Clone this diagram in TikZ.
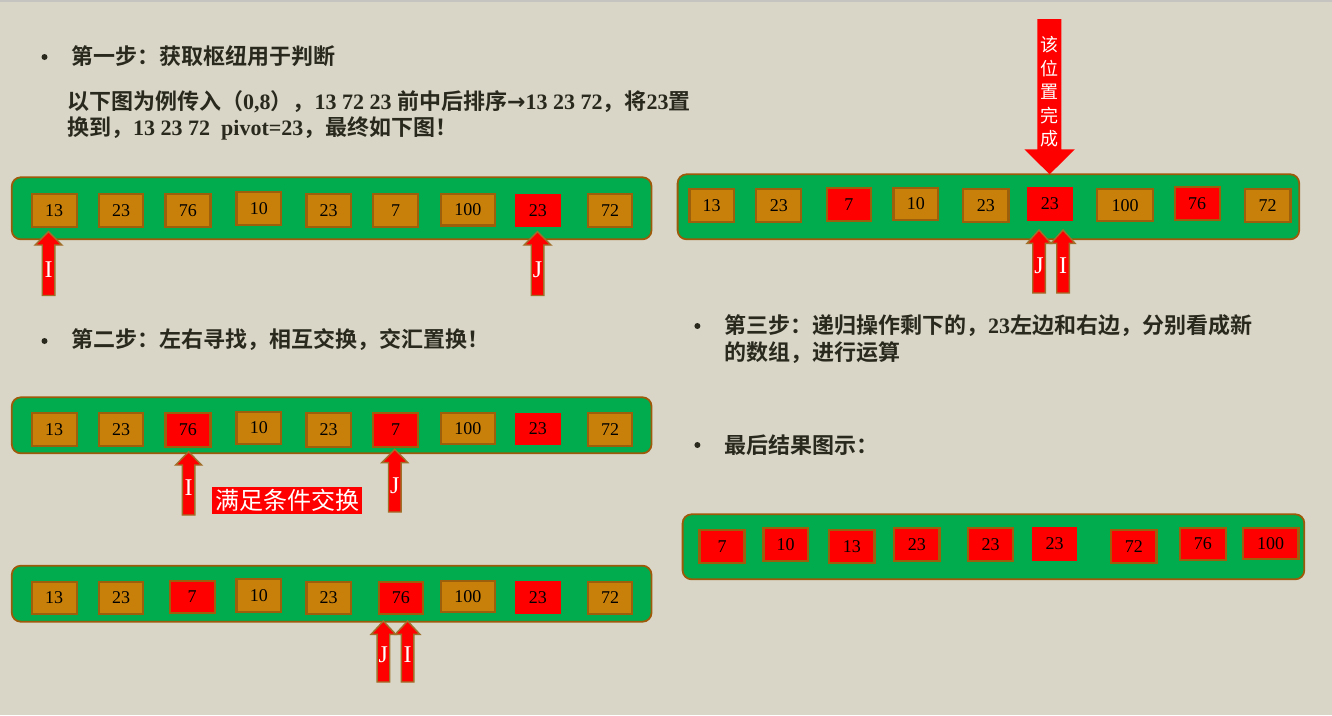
\documentclass[tikz,border=0pt]{standalone}
\usepackage{fontspec}
\setmainfont{Liberation Serif}
\newfontfamily\cjk[BoldFont={Noto Sans CJK SC Bold}]{Noto Sans CJK SC}
\newfontfamily\dv{DejaVu Sans}
\newcommand\C[1]{{\cjk #1}}
\definecolor{bgc}{HTML}{D9D6C7}
\definecolor{topc}{HTML}{C6C4C0}
\definecolor{grn}{HTML}{00AC4E}
\definecolor{rowbd}{HTML}{9C5A0A}
\definecolor{org}{HTML}{C8800B}
\definecolor{orgbd}{HTML}{9C5F0C}
\definecolor{arrbd}{HTML}{A0702A}
\definecolor{headc}{HTML}{29291D}
\tikzset{
  rowbox/.style={draw=rowbd, line width=1.8pt, fill=grn, rounded corners=9pt, inner sep=0pt},
  ob/.style={draw=orgbd, line width=2.2pt, fill=org, inner sep=0pt, font=\fontsize{18}{18}\selectfont},
  rb/.style={draw=orgbd, line width=2.2pt, fill=red, inner sep=0pt, font=\fontsize{18}{18}\selectfont},
  rn/.style={fill=red, inner sep=0pt, font=\fontsize{18}{18}\selectfont},
  arrsty/.style={draw=arrbd, line width=1.4pt, fill=red, line join=miter},
  arrlab/.style={text=white, inner sep=0pt, font=\fontsize{24}{24}\selectfont},
  hd/.style={anchor=west, inner sep=0pt, text=headc, font=\bfseries\fontsize{22}{26}\selectfont},
  bul/.style={circle, fill=headc, inner sep=0pt, minimum size=6pt},
}
\newcommand\cellbox[7]{\node[#6, minimum width={#4-#2}, minimum height={#5-#3}] (#1) at ({(#2+#4)/2},{(#3+#5)/2}) {#7};}
\newcommand\rowbox[5]{\node[rowbox, minimum width={#4-#2}, minimum height={#5-#3}] (#1) at ({(#2+#4)/2},{(#3+#5)/2}) {};}
\newcommand\uparr[7]{%
  \draw[arrsty] ({#2-6.3},#4) -- ({#2-6.3},{#3+13.3}) -- ({#2-#7},{#3+13.3}) -- (#2,#3) -- ({#2+#7},{#3+13.3}) -- ({#2+6.3},{#3+13.3}) -- ({#2+6.3},#4) -- cycle;
  \node[arrlab] (#1) at (#2,#6) {#5};}
\begin{document}
\begin{tikzpicture}[x=1pt,y=-1pt]
\useasboundingbox (0,0) rectangle (1332,715);
\fill[bgc] (0,0) rectangle (1332,715);
\fill[topc] (0,0) rectangle (1332,2);

% ---------- texts ----------
\node[bul] (b1) at (44.5,57) {};
\node[hd] (t1) at (71,56) {\C{第一步：获取枢纽用于判断}};
\node[hd] (t2) at (67,101.7) {\C{以下图为例传入（}0,8\C{），}13 72 23 \C{前中后排序}{\dv\bfseries →}13 23 72\C{，将}23\C{置}};
\node[hd] (t3) at (67,128.3) {\C{换到，}13 23 72\ \ pivot=23\C{，最终如下图！}};
\node[bul] (b2) at (44.5,341) {};
\node[hd] (t4) at (71,340) {\C{第二步：左右寻找，相互交换，交汇置换！}};
\node[bul] (b3) at (697.4,326) {};
\node[hd] (t5) at (724,326) {\C{第三步：递归操作剩下的，}23\C{左边和右边，分别看成新}};
\node[hd] (t6) at (724,352.7) {\C{的数组，进行运算}};
\node[bul] (b4) at (697.4,445) {};
\node[hd] (t7) at (724,445) {\C{最后结果图示：}};

% ---------- row 1 ----------
\rowbox{r1}{11.8}{177.3}{651.5}{239.3}
\cellbox{a1}{31.6}{194}{76.6}{227.3}{ob}{13}
\cellbox{a2}{98.9}{194}{143.1}{227.3}{ob}{23}
\cellbox{a3}{165.4}{194}{210.4}{227.3}{ob}{76}
\cellbox{a4}{236.5}{192.3}{281.1}{225}{ob}{10}
\cellbox{a5}{306.4}{194}{351}{227.3}{ob}{23}
\cellbox{a6}{373.3}{194}{418}{227.3}{ob}{7}
\cellbox{a7}{440.7}{194}{495}{225.5}{ob}{100}
\cellbox{a8}{515.2}{194}{560.6}{227.3}{rn}{23}
\cellbox{a9}{588}{194}{632.2}{227.3}{ob}{72}
\uparr{ai}{48.5}{231.7}{295.5}{I}{270}{13.5}
\uparr{aj}{537.5}{231.7}{295.5}{J}{270}{13.5}

% ---------- row 2 ----------
\rowbox{r2}{11.8}{397.3}{651.5}{453.3}
\cellbox{c1}{31.6}{413.3}{76.6}{445.7}{ob}{13}
\cellbox{c2}{98.9}{413.3}{143.1}{445.7}{ob}{23}
\cellbox{c3}{165.4}{413.3}{210.4}{446.7}{rb}{76}
\cellbox{c4}{236.5}{411.7}{281.1}{444.3}{ob}{10}
\cellbox{c5}{306.4}{413.3}{351}{446.7}{ob}{23}
\cellbox{c6}{373.3}{413.3}{418}{446.7}{rb}{7}
\cellbox{c7}{440.7}{413.3}{495}{444.3}{ob}{100}
\cellbox{c8}{515.2}{412.7}{560.6}{445}{rn}{23}
\cellbox{c9}{588}{413.3}{632.2}{445.7}{ob}{72}
\uparr{ci}{188.6}{451.7}{515}{I}{488}{13}
\uparr{cj}{394.8}{449.3}{512}{J}{486}{13}
\node[fill=red, text=white, inner sep=0pt, minimum width=150pt, minimum height=27pt, font=\cjk\fontsize{24}{24}\selectfont] (swap) at (287.2,500.7) {满足条件交换};

% ---------- row 4 ----------
\rowbox{r4}{11.8}{565.7}{651.5}{621.7}
\cellbox{d1}{31.6}{581.7}{76.6}{614}{ob}{13}
\cellbox{d2}{98.9}{581.7}{143.1}{614}{ob}{23}
\cellbox{d3}{169.6}{580.7}{214.6}{612.7}{rb}{7}
\cellbox{d4}{236.5}{579.3}{281.1}{612.3}{ob}{10}
\cellbox{d5}{306.4}{581.7}{351}{614}{ob}{23}
\cellbox{d6}{378.8}{581.7}{423}{614}{rb}{76}
\cellbox{d7}{440.7}{580.7}{495}{612.3}{ob}{100}
\cellbox{d8}{515.2}{580.7}{560.6}{614.3}{rn}{23}
\cellbox{d9}{588}{581.7}{632.2}{614}{ob}{72}
\uparr{dj}{383.4}{621}{682}{J}{655}{12.3}
\uparr{di}{407.6}{621}{682}{I}{655}{12.3}

% ---------- row 3 (top right) ----------
\rowbox{r3}{677.6}{174.3}{1299.2}{239.3}
\cellbox{e1}{689.4}{189.3}{734}{222.3}{ob}{13}
\cellbox{e2}{756.3}{189.3}{801.3}{222.3}{ob}{23}
\cellbox{e3}{826.6}{188.3}{871.2}{221}{rb}{7}
\cellbox{e4}{893.5}{187.7}{938}{220}{ob}{10}
\cellbox{e5}{963.3}{189.3}{1008.4}{222.3}{ob}{23}
\cellbox{e6}{1027}{186.7}{1072.8}{220.7}{rn}{23}
\cellbox{e7}{1097}{189.3}{1153}{221}{ob}{100}
\cellbox{e8}{1174.6}{187.3}{1219.7}{220}{rb}{76}
\cellbox{e9}{1245}{189.3}{1290.4}{222.3}{ob}{72}
\uparr{ej}{1039}{230}{293}{J}{266}{12}
\uparr{ei}{1063}{230}{293}{I}{266}{12}
\fill[red] (1037.4,19) -- (1061.4,19) -- (1061.4,149.3) -- (1074.9,149.3) -- (1049.6,174.3) -- (1024.4,149.3) -- (1037.4,149.3) -- cycle;
\node[text=white, inner sep=0pt, align=center, font=\cjk\fontsize{18}{23.5}\selectfont] (done) at (1049.4,92) {该\\位\\置\\完\\成};

% ---------- row 5 (final) ----------
\rowbox{r5}{682.6}{514.3}{1304.3}{579.3}
\cellbox{f1}{699.5}{530}{744.5}{563.3}{rb}{7}
\cellbox{f2}{763.4}{528.3}{808}{561}{rb}{10}
\cellbox{f3}{829}{530}{874.5}{563.3}{rb}{13}
\cellbox{f4}{894.3}{528.3}{939.4}{561}{rb}{23}
\cellbox{f5}{968}{528.3}{1013}{561}{rb}{23}
\cellbox{f6}{1032}{526.7}{1077.4}{560.7}{rn}{23}
\cellbox{f7}{1111}{530}{1156.5}{563.3}{rb}{72}
\cellbox{f8}{1180}{527.7}{1225.6}{560}{rb}{76}
\cellbox{f9}{1243}{528.3}{1298.4}{559}{rb}{100}
\end{tikzpicture}
\end{document}
